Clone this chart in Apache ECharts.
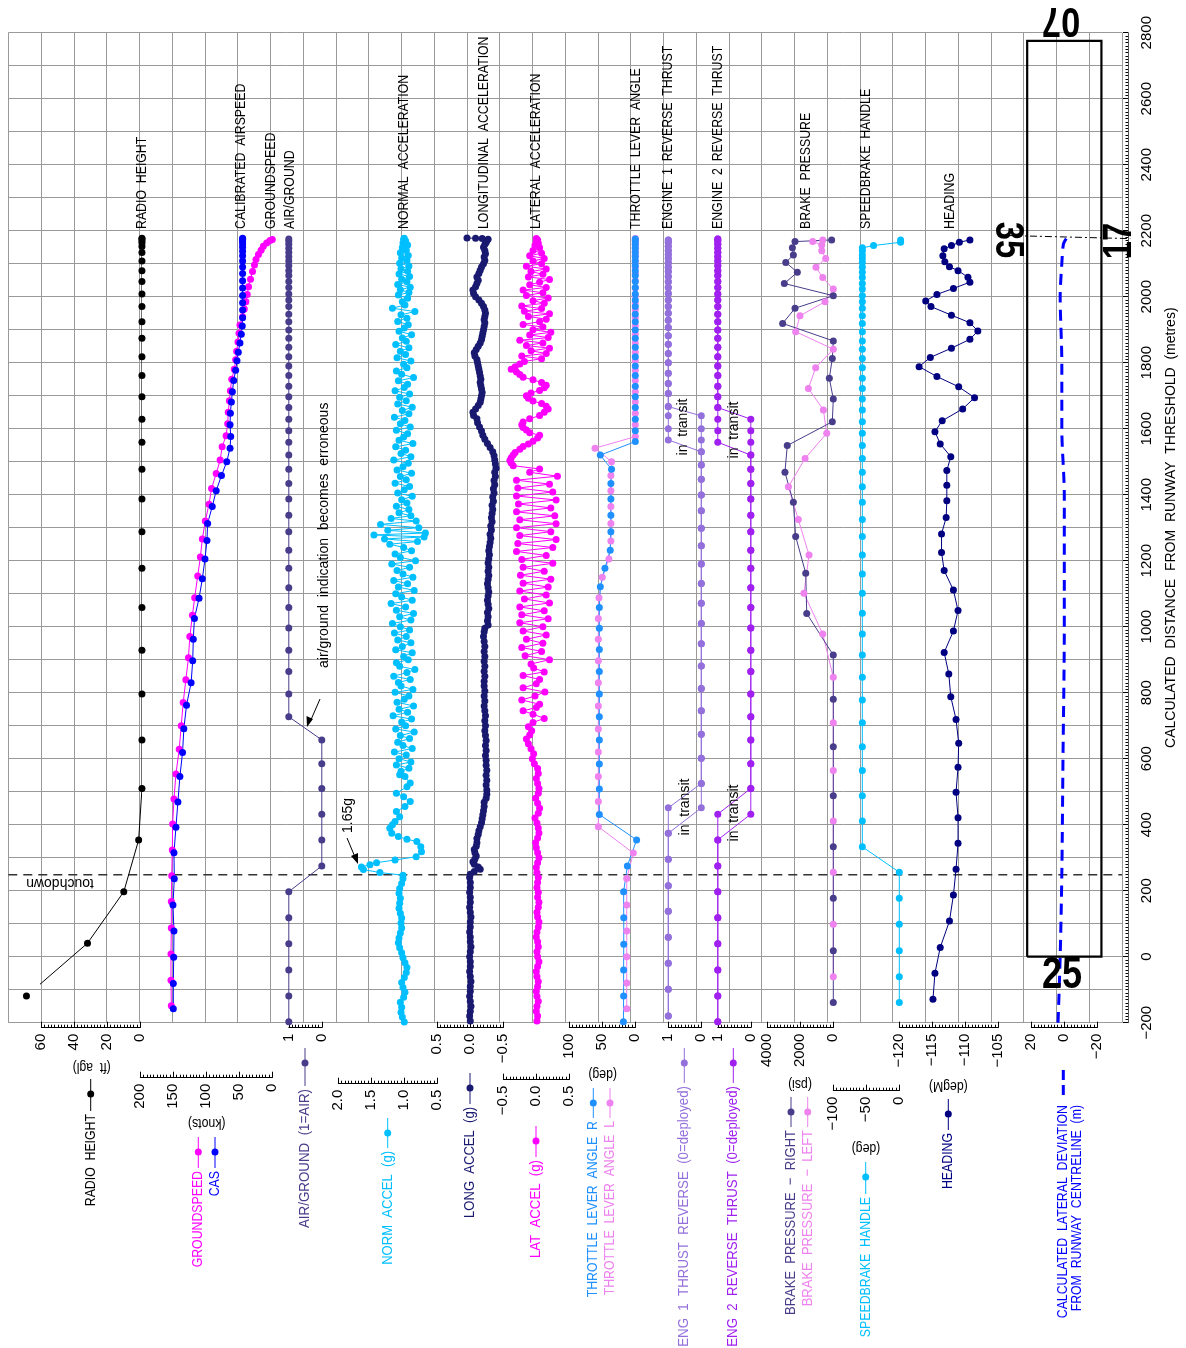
<!DOCTYPE html>
<html><head><meta charset="utf-8">
<script src="https://cdn.jsdelivr.net/npm/echarts@6/dist/echarts.min.js"></script>
<style>html,body{margin:0;padding:0;background:#fff}#c{width:1186px;height:1348px}</style>
</head><body><div id="c"></div>
<script>
// ---------------- DATA (distance m, value) ----------------
const DIST_TICKS = [-200, 0, 200, 400, 600, 800, 1000, 1200, 1400, 1600, 1800, 2000, 2200, 2400, 2600, 2800];
const TOUCHDOWN_D = [248];

const RADIO = [[-119,69],[41,32],[197,10],[354,1],[510,-1],[657,-1],[796,-1],[929,-1],[1058,-1],[1177,-1],[1288,-1],[1387,-1],[1477,-1],[1559,-1],[1629,-1],[1697,-1],[1761,-1],[1818,-1],[1874,-1],[1924,-1],[1970,-1],[2008,-1],[2046,-1],[2079,-1],[2108,-1],[2134,-1],[2152,-1],[2163,-1],[2169,-1],[2175,-1],[2177,-1]];

const GROUNDSPEED = [[-149,153],[-71,153.5],[8,153.5],[87,153],[167,153],[245,152.4],[323,151.5],[402,151],[478,149],[554,146],[629,141],[700,138],[770,135],[839,131],[906,127],[970,125],[1035,121],[1088,117.6],[1154,113],[1211,109],[1266,106],[1320,101.5],[1371,96],[1419,92],[1464,85],[1505,79],[1545,76],[1579,70],[1615,67.6],[1650,66.7],[1685,65],[1715,63.6],[1750,61.5],[1780,57.6],[1809,55.5],[1835,54],[1863,52],[1889,50.5],[1914,49],[1939,45],[1963,42.4],[1985,40],[2007,38],[2030,36],[2053,33],[2076,30],[2096,27],[2113,24.7],[2128,21],[2141,17],[2153,13.6],[2163,8.5],[2170,3.5],[2173,0]];

const CAS = [[-158,150],[-81,150],[-2,149.4],[78,149],[157,150.5],[236,148.5],[315,149],[392,146],[469,143],[546,140],[619,136],[691,134],[762,130],[830,123],[897,120.6],[962,119.7],[1025,118],[1086,111],[1145,106],[1205,102],[1261,99],[1313,98],[1364,91],[1412,85],[1458,77],[1500,69],[1541,64],[1576,63],[1612,64],[1647,63.5],[1681,62],[1712,60.5],[1746,58.5],[1777,55.5],[1806,53.5],[1832,51.5],[1860,49],[1886,47],[1911,45.5],[1936,45],[1960,45],[1982,45],[2004,45],[2026,45],[2048,45],[2070,45],[2090,45],[2108,45],[2124,45],[2138,45],[2150,45],[2160,45],[2167,45],[2172,45],[2175,45],[2177,45]];

const D1HZ_A = [-197,-119,-40,39,118,197,275,354,432,510,585,657,727,796,864,929,996,1058,1118,1177,1232,1288,1338,1387,1434,1477,1520,1559,1594,1629,1664,1697,1729,1761,1790,1818,1847,1874,1899,1924,1947,1970,1990,2008,2028,2046,2064,2079,2094,2108,2121,2134,2147,2159,2169,2175];
const AIR_GROUND = [1,1,1,1,1,1,0,0,0,0,0,0,1,1,1,1,1,1,1,1,1,1,1,1,1,1,1,1,1,1,1,1,1,1,1,1,1,1,1,1,1,1,1,1,1,1,1,1,1,1,1,1,1,1,1,1];

const NORM_ACCEL = [[-198,1.00],[-183,1.03],[-168,1.05],[-153,1.04],[-138,1.06],[-123,1.01],[-108,0.99],[-93,1.02],[-78,1.04],[-63,1.00],[-48,0.97],[-33,0.96],[-18,0.99],[-3,1.02],[12,1.04],[27,1.07],[42,1.09],[57,1.08],[72,1.06],[87,1.04],[102,1.05],[117,1.04],[132,1.06],[147,1.08],[162,1.07],[177,1.06],[192,1.08],[207,1.07],[222,1.04],[237,1.02],[247,1.02],
[255,1.37],[264,1.62],[272,1.65],[279,1.52],[285,1.42],[293,1.14],[303,0.82],[318,0.74],[333,0.75],[349,0.81],[356,0.96],[364,1.09],[374,1.19],[389,1.22],[400,1.18],[410,1.14],[424,1.07],[440,1.12],[455,0.99],[470,0.91],[485,1.01],[495,1.12],[515,0.96],[526,0.91],[546,0.99],[551,1.07],
[562,1.05],[571,0.93],[581,1.12],[590,0.90],[600,1.08],[611,0.97],[620,1.15],[631,0.88],[640,1.02],[650,1.10],[661,0.92],[670,1.06],[681,0.85],[690,1.13],[700,0.98],[711,1.04],[720,0.89],[730,1.17],[741,0.95],[750,1.08],[760,0.86],[771,1.11],[780,1.00],[790,0.93],[801,1.14],[810,0.87],[820,1.05],[831,1.09],[840,0.91],[850,1.16],[861,0.96],[870,0.84],[880,1.07],[891,1.12],[900,0.94],[910,1.01],[921,0.88],[930,1.13],[940,1.03],[951,0.90],[960,1.10],[970,0.97],[981,1.15],[990,0.92],[1000,1.06],
[1010,1.18],[1020,0.90],[1030,1.07],[1040,0.86],[1050,1.12],[1060,0.98],[1070,1.20],[1080,0.88],[1090,1.04],[1100,1.13],[1110,0.85],[1120,1.09],[1130,0.95],[1140,1.16],[1150,0.87],[1160,1.02],[1170,1.11],[1180,0.92],[1190,1.19],[1200,0.83],[1210,1.06],[1220,1.14],[1230,0.89],[1240,1.01],[1250,1.22],[1258,0.80],
[1266,1.30],[1272,0.70],[1278,1.46],[1284,0.68],[1292,1.25],[1300,0.78],[1310,1.36],[1320,0.82],[1328,1.20],[1336,0.90],
[1345,1.08],[1355,0.93],[1365,1.12],[1375,0.96],[1385,1.04],[1395,0.88],[1405,1.10],[1415,1.00],[1425,0.92],[1435,1.14],[1445,0.97],[1455,1.06],[1465,0.89],[1475,1.11],[1485,1.02],[1495,0.94],[1505,1.16],[1515,0.90],[1525,1.05],[1535,0.98],[1545,1.13],[1555,0.87],[1565,1.08],[1575,1.01],[1585,0.95],[1595,1.12],[1605,0.91],[1615,1.06],[1625,0.99],[1635,1.15],[1645,0.93],[1655,1.03],[1665,0.88],[1675,1.10],[1685,0.97],[1695,1.07],[1705,0.92],[1715,1.14],[1725,1.00],[1735,0.95],[1745,1.09],[1755,0.86],[1765,1.04],[1775,1.12],[1785,0.96],[1795,1.01],[1805,0.90],[1815,1.11],[1825,0.98],[1835,1.06],[1845,0.93],[1855,1.13],[1865,0.97],[1875,1.03],[1885,0.89],[1895,1.08],[1905,1.00],[1915,0.94],[1925,1.10],[1935,0.96],[1945,1.05],[1955,0.84],[1965,1.18],[1975,0.99],[1985,1.03],[1995,0.95],[2005,1.09],[2013,0.93],[2021,1.06],[2029,0.91],[2037,1.10],[2045,0.96],[2053,1.04],[2061,0.92],[2069,1.08],[2077,0.95],[2085,1.05],[2093,0.93],[2101,1.07],[2109,0.96],[2117,1.04],[2125,0.94],[2133,1.06],[2141,0.97],[2149,1.03],[2157,0.95],[2163,1.02],[2169,0.98],[2174,1.01],[2177,1.00]];

const LONG_ACCEL = [[-195,0.0],[-180,0.01],[-165,0.0],[-150,-0.01],[-135,0.0],[-120,0.01],[-105,0.0],[-90,0.0],[-75,-0.01],[-60,0.0],[-45,0.01],[-30,0.0],[-15,0.0],[0,0.01],[15,0.0],[30,-0.01],[45,0.0],[60,0.0],[75,0.01],[90,0.0],[105,0.0],[120,-0.01],[135,0.0],[150,0.01],[165,0.0],[180,0.0],[195,0.01],[210,0.0],[225,0.0],[240,0.01],[250,0.0],
[258,-0.06],[265,-0.15],[272,-0.12],[280,-0.06],[288,-0.04],[296,-0.07],[305,-0.09],[315,-0.07],[325,-0.06],[335,-0.09],[345,-0.1],[358,-0.1],[370,-0.12],[382,-0.13],[394,-0.15],[406,-0.17],[418,-0.18],[430,-0.19],[442,-0.2],[455,-0.21],[468,-0.21],[480,-0.24],[492,-0.25],[505,-0.25],[520,-0.24],[535,-0.25],[550,-0.24],[565,-0.25],[580,-0.24],[595,-0.24],[610,-0.23],[625,-0.24],[640,-0.23],[655,-0.24],[670,-0.23],[685,-0.22],[700,-0.23],[715,-0.22],[730,-0.23],[745,-0.22],[760,-0.21],[775,-0.22],[790,-0.21],[805,-0.22],[820,-0.21],[835,-0.21],[850,-0.22],[865,-0.21],[880,-0.22],[895,-0.21],[910,-0.22],[925,-0.21],[940,-0.22],[955,-0.21],[970,-0.2],[985,-0.21],[995,-0.22],
[1005,-0.27],[1018,-0.26],[1030,-0.27],[1043,-0.26],[1055,-0.28],[1068,-0.27],[1080,-0.26],[1093,-0.27],[1105,-0.28],[1118,-0.27],[1130,-0.26],[1143,-0.27],[1155,-0.28],[1168,-0.27],[1180,-0.28],[1193,-0.27],[1205,-0.28],[1218,-0.29],[1230,-0.28],[1243,-0.29],[1255,-0.3],[1268,-0.31],[1280,-0.3],[1293,-0.32],[1305,-0.31],[1318,-0.33],[1330,-0.32],[1343,-0.33],[1355,-0.34],[1368,-0.33],[1380,-0.35],[1393,-0.34],[1405,-0.36],[1418,-0.35],[1430,-0.37],[1443,-0.36],[1455,-0.38],[1468,-0.37],[1480,-0.39],[1493,-0.38],[1505,-0.37],[1518,-0.36],[1530,-0.34],[1543,-0.3],[1555,-0.26],[1568,-0.22],[1580,-0.19],[1593,-0.17],[1605,-0.14],[1618,-0.11],[1630,-0.1],[1640,-0.05],[1650,-0.04],[1660,-0.08],[1670,-0.12],[1680,-0.15],[1690,-0.16],[1700,-0.17],[1710,-0.18],[1720,-0.17],[1730,-0.16],[1740,-0.15],[1750,-0.16],[1760,-0.15],[1770,-0.14],[1780,-0.13],[1790,-0.12],[1800,-0.11],[1810,-0.1],[1820,-0.07],[1830,-0.06],[1840,-0.09],[1850,-0.12],[1860,-0.15],[1870,-0.17],[1880,-0.18],[1890,-0.19],[1900,-0.2],[1910,-0.21],[1920,-0.22],[1930,-0.21],[1940,-0.22],[1950,-0.23],[1960,-0.22],[1970,-0.2],[1980,-0.17],[1990,-0.13],[2000,-0.08],[2010,-0.05],[2020,-0.04],[2030,-0.08],[2040,-0.1],[2050,-0.12],[2060,-0.1],[2070,-0.13],[2080,-0.15],[2090,-0.17],[2100,-0.2],[2110,-0.22],[2120,-0.21],[2130,-0.23],[2140,-0.22],[2150,-0.2],[2158,-0.22],[2164,-0.24],[2170,-0.25],[2174,-0.27],[2176,-0.18],[2177,-0.08],[2178,0.05]];

const LAT_ACCEL = [[-195,0.01],[-180,0.02],[-165,0.0],[-150,0.01],[-135,0.03],[-120,0.01],[-105,0.0],[-90,0.02],[-75,0.03],[-60,0.01],[-45,0.0],[-30,0.02],[-15,0.04],[0,0.02],[15,0.01],[30,0.03],[45,0.02],[60,0.0],[75,0.01],[90,0.03],[105,0.04],[120,0.02],[135,0.01],[150,0.03],[165,0.04],[180,0.02],[195,0.03],[210,0.01],[225,0.02],[240,0.03],[255,0.01],[270,0.0],[285,0.02],[300,0.04],[315,0.02],[330,0.0],[345,-0.01],[360,0.02],[375,0.04],[390,0.03],[405,0.01],[420,-0.02],[435,0.03],[450,0.05],[465,0.02],[480,-0.01],[495,0.03],[510,0.04],[525,0.02],[540,0.0],[555,0.03],[570,0.02],[585,-0.03],[600,-0.06],[615,-0.04],[630,-0.08],[645,-0.12],[660,-0.15],[672,-0.1],[685,-0.07],[697,-0.12],
[710,-0.05],[722,0.12],[735,-0.05],[745,-0.2],[755,0.0],[765,0.05],[778,-0.22],[790,-0.02],[802,0.13],[815,-0.2],[827,0.0],[840,0.05],[852,-0.2],[863,0.12],[875,-0.04],[887,-0.08],[900,0.2],[912,-0.17],[925,0.08],[937,-0.22],[950,0.1],[962,-0.15],[975,0.15],[987,-0.2],[1000,0.1],[1012,-0.25],[1024,0.18],[1036,-0.22],[1048,0.12],[1060,-0.25],[1072,0.2],[1084,-0.18],[1096,0.15],[1108,-0.25],[1120,0.18],[1132,-0.2],[1144,0.22],[1156,-0.24],[1168,0.12],[1180,-0.2],[1192,0.25],[1204,-0.22],[1216,0.15],[1228,-0.3],[1240,0.25],[1252,-0.28],[1264,0.3],[1276,-0.25],[1288,0.22],[1300,-0.3],[1312,0.3],[1324,-0.25],[1336,0.28],[1348,-0.3],[1360,0.22],[1372,-0.27],[1384,0.3],[1396,-0.3],[1408,0.25],[1420,-0.28],[1432,0.2],[1444,-0.3],[1456,0.32],[1468,-0.1],[1478,0.05],[1488,-0.35],[1496,-0.38],[1504,-0.4],[1512,-0.38],[1520,-0.35],[1528,-0.32],[1538,-0.25],[1546,-0.2],[1554,-0.12],[1562,-0.05],[1572,0.02],[1580,0.05],[1588,-0.1],[1596,-0.15],[1604,-0.2],[1612,-0.22],[1620,-0.2],[1630,-0.1],[1640,0.05],[1650,0.12],[1660,0.18],[1668,0.15],[1676,0.08],[1684,-0.05],[1692,-0.12],[1700,-0.15],[1708,-0.08],[1716,0.05],[1724,0.12],[1732,0.15],[1740,0.08],[1748,-0.05],[1756,-0.2],[1764,-0.25],[1772,-0.3],[1780,-0.38],[1788,-0.32],[1796,-0.25],[1804,-0.18],[1812,0.08],[1820,-0.22],[1828,0.15],[1836,-0.08],[1844,0.2],[1852,-0.15],[1860,0.1],[1868,-0.25],[1876,0.18],[1884,-0.1],[1892,0.22],[1900,-0.05],[1908,0.1],[1916,-0.2],[1924,0.05],[1932,0.15],[1940,-0.12],[1948,0.2],[1956,-0.18],[1964,0.08],[1972,-0.22],[1980,0.12],[1988,-0.05],[1996,0.18],[2004,-0.15],[2012,0.1],[2020,-0.2],[2028,0.15],[2036,-0.1],[2044,0.05],[2052,0.2],[2060,-0.12],[2068,0.1],[2076,-0.08],[2084,0.15],[2092,-0.15],[2100,0.08],[2108,-0.05],[2116,0.12],[2124,-0.1],[2132,0.08],[2140,-0.05],[2148,0.05],[2156,-0.02],[2162,0.03],[2168,0.0],[2172,0.02],[2176,0.0]];

const THROTTLE_R = [[-197,18],[-119,17.7],[-40,17.7],[38,17.5],[118,17.5],[197,17.7],[275,12],[354,-2],[431,54.5],[508,54.5],[584,54.5],[657,54.5],[727,54.5],[796,54.5],[864,54.5],[931,54.5],[995,54.5],[1058,54.5],[1121,53],[1177,46],[1232,38],[1288,37],[1338,37],[1387,37],[1434,37],[1477,36],[1520,53],[1561,0],[1594,0],[1629,0],[1664,0],[1697,0],[1729,0],[1761,0],[1790,0],[1818,0],[1847,0],[1874,0],[1899,0],[1924,0],[1947,0],[1970,0],[1990,0],[2008,0],[2028,0],[2046,0],[2064,0],[2079,0],[2094,0],[2108,0],[2121,0],[2134,0],[2147,0],[2159,0],[2169,0],[2175,0]];
const THROTTLE_L = [[-158,13],[-80,13],[0,13],[78,13],[157,13],[237,13],[314,3],[394,56],[470,56],[546,56],[620,56],[690,56],[760,56],[830,56],[897,56],[962,56],[1025,56],[1088,55],[1150,50],[1205,40],[1260,37],[1313,37],[1364,37],[1412,37],[1458,37],[1500,36],[1541,61],[1576,0],[1612,0],[1647,0],[1681,0],[1712,0],[1746,0],[1777,0],[1806,0],[1832,0],[1860,0],[1886,0],[1911,0],[1936,0],[1960,0],[1982,0],[2004,0],[2026,0],[2048,0],[2070,0],[2090,0],[2108,0],[2124,0],[2138,0],[2150,0],[2160,0],[2167,0],[2172,0],[2176,0]];

const D1HZ_B = [-180,-99,-20,59,138,215,295,374,451,525,601,674,745,813,881,948,1010,1071,1131,1190,1245,1298,1351,1399,1447,1490,1530,1566,1600,1639,1667,1707,1737,1768,1800,1828,1856,1882,1907,1929,1950,1970,1990,2010,2028,2045,2061,2076,2089,2103,2116,2128,2140,2153,2165,2172];
const ENG1_REV_A = [1,1,1,1,1,1,1,1,0,0,0,0,0,0,0,0,0,0,0,0,0,0,0,0,0,0,0,1,1,1,1,1,1,1,1,1,1,1,1,1,1,1,1,1,1,1,1,1,1,1,1,1,1,1,1,1];
const ENG1_REV_B = [1,1,1,1,1,1,1,1,1,0,0,0,0,0,0,0,0,0,0,0,0,0,0,0,0,0,0,0,0,0,1,1,1,1,1,1,1,1,1,1,1,1,1,1,1,1,1,1,1,1,1,1,1,1,1,1];
const ENG2_REV_A = [1,1,1,1,1,1,1,1,0,0,0,0,0,0,0,0,0,0,0,0,0,0,0,0,0,0,0,1,1,1,1,1,1,1,1,1,1,1,1,1,1,1,1,1,1,1,1,1,1,1,1,1,1,1,1,1];
const ENG2_REV_B = [1,1,1,1,1,1,1,1,1,0,0,0,0,0,0,0,0,0,0,0,0,0,0,0,0,0,0,0,0,0,1,1,1,1,1,1,1,1,1,1,1,1,1,1,1,1,1,1,1,1,1,1,1,1,1,1];

const BRAKE_R = [[-139,0],[18,0],[177,0],[333,0],[488,0],[636,0],[780,0],[914,0],[1040,1610],[1162,1670],[1273,2280],[1377,2420],[1468,2930],[1549,2790],[1621,60],[1690,0],[1753,240],[1813,60],[1866,0],[1919,3070],[1965,2320],[2003,0],[2040,2970],[2074,2180],[2104,2880],[2126,2420],[2148,2480],[2167,2320],[2172,100]];
const BRAKE_L = [[-61,0],[98,0],[256,0],[411,0],[564,0],[709,0],[847,0],[978,640],[1101,1780],[1217,1470],[1325,2120],[1424,2720],[1510,1710],[1586,400],[1657,600],[1722,1510],[1785,1070],[1841,0],[1894,2280],[1942,2020],[1985,500],[2023,0],[2058,640],[2089,1050],[2116,460],[2139,700],[2157,700],[2167,1250],[2172,640]];

const SPEEDBRAKE = [[-139,0],[-61,0],[18,0],[98,0],[177,0],[256,0],[333,-56],[411,-56],[488,-56],[564,-56],[636,-56],[709,-56],[778,-56],[847,-56],[914,-56],[978,-56],[1041,-56],[1101,-56],[1160,-56],[1217,-56],[1273,-56],[1325,-56],[1377,-56],[1424,-56],[1468,-56],[1510,-56],[1549,-56],[1586,-56],[1621,-56],[1657,-56],[1690,-56],[1722,-56],[1753,-56],[1785,-56],[1813,-56],[1841,-56],[1866,-56],[1894,-56],[1919,-56],[1942,-56],[1965,-56],[1985,-56],[2003,-56],[2023,-56],[2040,-56],[2058,-56],[2074,-56],[2089,-56],[2104,-56],[2116,-56],[2126,-56],[2139,-56],[2148,-56],[2155,-39],[2165,2],[2172,2]];

const HEADING = [[-129,-114.9],[-50,-114.6],[28,-113.8],[108,-112.4],[187,-111.8],[265,-111.4],[344,-111.1],[421,-111.1],[498,-111.4],[574,-111.1],[647,-111.0],[719,-111.4],[788,-112.2],[857,-112.5],[922,-113.2],[987,-111.8],[1049,-111.1],[1111,-111.8],[1170,-113.2],[1225,-113.6],[1281,-113.6],[1331,-112.9],[1382,-112.8],[1429,-112.8],[1473,-112.8],[1515,-112.2],[1554,-113.8],[1591,-114.6],[1624,-113.5],[1660,-110.4],[1694,-108.6],[1727,-111.0],[1758,-114.3],[1788,-117.0],[1816,-115.3],[1844,-112.1],[1871,-109.3],[1896,-108.1],[1921,-109.3],[1944,-112.1],[1970,-115.2],[1987,-116.0],[2007,-114.3],[2025,-111.8],[2044,-109.3],[2059,-109.6],[2079,-111.1],[2091,-112.4],[2106,-113.1],[2124,-113.4],[2145,-113.2],[2155,-112.1],[2165,-110.9],[2172,-109.3]];

const LATERAL_DEV = [[-200,3.8],[0,2.5],[250,1.5],[600,0.8],[1000,0],[1400,0],[1600,1.5],[1800,1.5],[2000,2.5],[2100,1.5],[2160,0.5],[2178,-1.5]];
const RUNWAY_EDGES = [[0,22.5],[2775,22.5],[2775,-22.5],[0,-22.5],[0,22.5]];
const CROSS_RUNWAY = [[2186,39],[2176,-40]];

// ---------------- LAYOUT ----------------
const F = "'Liberation Sans',Arial,sans-serif";
const NARROW = 0.82;
const L0 = 8.3, T0 = 32.7, CW = 33, PH = 990, DMIN = -200, DMAX = 2800;
const colX = k => L0 + CW * k;

const strips = [
  {c0:1,   w:3, min:0,    max:60,   iv:20,   inv:true,  off:5,  dec:0},
  {c0:4,   w:4, min:0,    max:200,  iv:50,   inv:true,  off:55, dec:0},
  {c0:8.5, w:1, min:0,    max:1,    iv:1,    inv:true,  off:5,  dec:0},
  {c0:10,  w:3, min:0.5,  max:2.0,  iv:0.5,  inv:true,  off:61, dec:1},
  {c0:13,  w:2, min:-0.5, max:0.5,  iv:0.5,  inv:true,  off:5,  dec:1},
  {c0:15,  w:2, min:-0.5, max:0.5,  iv:0.5,  inv:false, off:57, dec:1},
  {c0:17,  w:2, min:0,    max:100,  iv:50,   inv:true,  off:5,  dec:0},
  {c0:20,  w:1, min:0,    max:1,    iv:1,    inv:true,  off:5,  dec:0},
  {c0:21.5,w:1, min:0,    max:1,    iv:1,    inv:true,  off:5,  dec:0},
  {c0:23,  w:2, min:0,    max:4000, iv:2000, inv:true,  off:5,  dec:0},
  {c0:25,  w:2, min:-100, max:0,    iv:50,   inv:false, off:68, dec:0},
  {c0:27,  w:3, min:-120, max:-105, iv:5,    inv:false, off:5,  dec:0},
  {c0:31,  w:2, min:-20,  max:20,   iv:20,   inv:true,  off:5,  dec:0}
];
const fmtNum = (v, dec) => { let s = Number(v).toFixed(dec); if (Number(s) === 0) s = (0).toFixed(dec); return s.replace('-', '\u2212'); };

const grids = [{left:L0, top:T0, width:CW*34, height:PH}];
const xAxes = [{gridIndex:0, type:'value', min:0, max:34, interval:1, axisLine:{show:false}, axisTick:{show:false}, axisLabel:{show:false},
  splitLine:{show:true, lineStyle:{color:'#9a9a9a', width:1}}}];
const yAxes = [
  {gridIndex:0, type:'value', min:DMIN, max:DMAX, interval:100, position:'left', axisLine:{show:false}, axisTick:{show:false}, axisLabel:{show:false},
   splitLine:{show:true, lineStyle:{color:'#9a9a9a', width:1}}},
  {gridIndex:0, type:'value', min:DMIN, max:DMAX, interval:200, position:'right', offset:6,
   axisLine:{show:true, lineStyle:{color:'#555', width:1}}, axisTick:{show:true, inside:true, length:5, lineStyle:{color:'#000'}},
   minorTick:{show:true, splitNumber:20, length:2.5, lineStyle:{color:'#000'}}, splitLine:{show:false},
   axisLabel:{rotate:90, fontSize:15, fontFamily:F, color:'#000', margin:11, formatter:v => DIST_TICKS.indexOf(v) >= 0 ? fmtNum(v,0) : ''},
   name:'CALCULATED  DISTANCE  FROM  RUNWAY  THRESHOLD  (metres)', nameLocation:'middle', nameRotate:90, nameGap:36,
   nameTextStyle:{fontSize:14, fontFamily:F, color:'#000'}}
];
strips.forEach((s, i) => {
  const gi = i + 1;
  grids.push({left:colX(s.c0), top:T0, width:CW*s.w, height:PH});
  xAxes.push({gridIndex:gi, type:'value', min:s.min, max:s.max, interval:s.iv, inverse:s.inv, position:'bottom', offset:s.off,
    axisLine:{show:true, onZero:false, lineStyle:{color:'#000', width:1}},
    axisTick:{show:true, inside:true, length:6, lineStyle:{color:'#000'}},
    minorTick:{show:true, splitNumber:10, length:3, lineStyle:{color:'#000'}},
    splitLine:{show:false},
    axisLabel:{rotate:90, fontSize:15, fontFamily:F, color:'#000', margin:6, formatter:v => fmtNum(v, s.dec)}});
  yAxes.push({gridIndex:gi, type:'value', min:DMIN, max:DMAX, show:false});
});

const series = [];
const ln = (gi, data, color, extra) => series.push(Object.assign({
  type:'line', xAxisIndex:gi, yAxisIndex:gi + 1, data:data, symbol:'circle', symbolSize:7,
  lineStyle:{color:color, width:1}, itemStyle:{color:color}, clip:false, animation:false, z:3
}, extra || {}));
const flip = arr => arr.map(p => [p[1], p[0]]);
const zipD = (D, V) => D.map((d, i) => [V[i], d]);

ln(1, flip(RADIO), '#000000');
ln(2, flip(GROUNDSPEED), '#ff00ff');
ln(2, flip(CAS), '#0000ff');
ln(3, zipD(D1HZ_A, AIR_GROUND), '#483d8b');
ln(4, flip(NORM_ACCEL), '#00bfff');
ln(5, flip(LONG_ACCEL), '#191970');
ln(6, flip(LAT_ACCEL), '#ff00ff');
ln(7, flip(THROTTLE_L), '#ee82ee');
ln(7, flip(THROTTLE_R), '#1e90ff');
ln(8, zipD(D1HZ_B, ENG1_REV_A), '#9370db');
ln(8, zipD(D1HZ_B, ENG1_REV_B), '#9370db');
ln(9, zipD(D1HZ_A, ENG2_REV_A), '#a020f0');
ln(9, zipD(D1HZ_A, ENG2_REV_B), '#a020f0');
ln(10, flip(BRAKE_L), '#ee82ee');
ln(10, flip(BRAKE_R), '#483d8b');
ln(11, flip(SPEEDBRAKE), '#00bfff');
ln(12, flip(HEADING), '#000080');
ln(13, flip(LATERAL_DEV), '#0000ff', {symbol:'none', lineStyle:{color:'#0000ff', width:3, type:[11,7]}, smooth:0.3});
series.push({type:'line', xAxisIndex:0, yAxisIndex:0, data:[[0, TOUCHDOWN_D[0]], [34, TOUCHDOWN_D[0]]], symbol:'none',
  lineStyle:{color:'#333', width:1.5, type:[9,6]}, animation:false, z:1});

const chart = echarts.init(document.getElementById('c'), null, {renderer:'canvas'});
chart.setOption({animation:false, backgroundColor:'#fff', grid:grids, xAxis:xAxes, yAxis:yAxes, series:series});

// ---------------- TEXT / LEGEND / RUNWAY GRAPHICS ----------------
const G = [];
const txt = (x, y, text, color, align, size, rot, weight, sx) => G.push({type:'text', x:x, y:y, rotation:rot, scaleX:(sx == null ? NARROW : sx), z:100, silent:true,
  style:{text:text, fill:color, font:(weight||'normal') + ' ' + size + 'px ' + F, textAlign:align, textVerticalAlign:'middle', align:align, verticalAlign:'middle'}});
const UP = Math.PI / 2, DOWN = -Math.PI / 2, FLIP = Math.PI;

// runway outline and crossing runway, positioned through the lateral-deviation axes
const toPx = p => chart.convertToPixel({gridIndex:13}, [p[1], p[0]]);
G.push({type:'polyline', z:50, silent:true, shape:{points:RUNWAY_EDGES.map(toPx)}, style:{stroke:'#000', lineWidth:2.2, fill:null}});
G.push({type:'polyline', z:50, silent:true, shape:{points:CROSS_RUNWAY.map(toPx)}, style:{stroke:'#000', lineWidth:1, fill:null, lineDash:[7,3,2,3]}});

// titles above the traces
[[142,'RADIO  HEIGHT'],[241,'CALIBRATED  AIRSPEED'],[270.5,'GROUNDSPEED'],[290,'AIR/GROUND'],
 [404,'NORMAL  ACCELERATION'],[484,'LONGITUDINAL  ACCELERATION'],[536,'LATERAL  ACCELERATION'],
 [636,'THROTTLE  LEVER  ANGLE'],[668,'ENGINE  1  REVERSE  THRUST'],[718,'ENGINE  2  REVERSE  THRUST'],
 [806,'BRAKE  PRESSURE'],[866,'SPEEDBRAKE  HANDLE'],[950,'HEADING']
].forEach(t => txt(t[0], 229, t[1], '#000', 'left', 15, UP));

// legend entries: x, dot y, text end y, label, colour, horizontal squeeze
[[90.7,1094,1114,'RADIO  HEIGHT','#000000',0.82],
 [198.3,1152,1171,'GROUNDSPEED','#ff00ff',0.82],
 [215,1152,1171,'CAS','#0000ff',0.82],
 [305,1063,1089,'AIR/GROUND  (1=AIR)','#483d8b',0.89],
 [387.7,1133,1151,'NORM  ACCEL  (g)','#00bfff',0.87],
 [470,1088,1107,'LONG  ACCEL  (g)','#191970',0.87],
 [536,1141,1160,'LAT  ACCEL  (g)','#ff00ff',0.88],
 [593.3,1103,1121,'THROTTLE  LEVER  ANGLE  R','#1e90ff',0.82],
 [610,1103,1121,'THROTTLE  LEVER  ANGLE  L','#ee82ee',0.82],
 [684.3,1063,1086,'ENG  1  THRUST  REVERSE  (0=deployed)','#9370db',0.885],
 [733.3,1063,1086,'ENG  2  REVERSE  THRUST  (0=deployed)','#a020f0',0.885],
 [791,1112,1130,'BRAKE  PRESSURE  \u2212  RIGHT','#483d8b',0.865],
 [807.7,1112,1130,'BRAKE  PRESSURE  \u2212  LEFT','#ee82ee',0.865],
 [865.7,1177,1197,'SPEEDBRAKE  HANDLE','#00bfff',0.82],
 [948.3,1114,1133,'HEADING','#000080',0.82]
].forEach(e => {
  G.push({type:'line', z:100, silent:true, shape:{x1:e[0], y1:e[1]-15, x2:e[0], y2:e[2]-3}, style:{stroke:e[4], lineWidth:1}});
  G.push({type:'circle', z:100, silent:true, shape:{cx:e[0], cy:e[1], r:3.5}, style:{fill:e[4]}});
  txt(e[0], e[2], e[3], e[4], 'right', 15, UP, null, e[5]);
});
G.push({type:'line', z:100, silent:true, shape:{x1:1063.3, y1:1070, x2:1063.3, y2:1099}, style:{stroke:'#0000ff', lineWidth:3, lineDash:[10,5]}});
txt(1063.3, 1105, 'CALCULATED  LATERAL  DEVIATION', '#0000ff', 'right', 15, UP);
txt(1077, 1105, 'FROM  RUNWAY  CENTRELINE  (m)', '#0000ff', 'right', 15, UP);

// units (upside down)
[[91.7,1067,'(ft  agl)'],[206.7,1123,'(knots)'],[602.7,1074,'(deg)'],[800,1084,'(psi)'],[866,1148,'(deg)'],[948.3,1086,'(degM)']]
  .forEach(u => txt(u[0], u[1], u[2], '#000', 'center', 15, FLIP));

// annotations
txt(60, 883, 'touchdown', '#000', 'center', 14, FLIP, null, 1);
txt(324, 668, 'air/ground  indication  becomes  erroneous', '#000', 'left', 14, UP, null, 1);
G.push({type:'line', z:100, silent:true, shape:{x1:320, y1:699, x2:310, y2:722}, style:{stroke:'#000', lineWidth:1}});
G.push({type:'polygon', z:100, silent:true, shape:{points:[[307,727],[306.5,716],[313,719]]}, style:{fill:'#000'}});
txt(348, 833, '1.65g', '#000', 'left', 14, UP, null, 1);
G.push({type:'line', z:100, silent:true, shape:{x1:347, y1:838, x2:355, y2:857}, style:{stroke:'#000', lineWidth:1}});
G.push({type:'polygon', z:100, silent:true, shape:{points:[[358,864],[351,856],[358,853]]}, style:{fill:'#000'}});
txt(685, 807, 'in  transit', '#000', 'center', 14, UP, null, 1);
txt(683, 427, 'in  transit', '#000', 'center', 14, UP, null, 1);
txt(734, 813, 'in  transit', '#000', 'center', 14, UP, null, 1);
txt(734, 430, 'in  transit', '#000', 'center', 14, UP, null, 1);

// runway designators
txt(1062, 976, '25', '#000', 'center', 44, 0, 'bold');
txt(1061, 20, '07', '#000', 'center', 42, FLIP, 'bold');
txt(1007, 240, '35', '#000', 'center', 40, DOWN, 'bold');
txt(1120, 241, '17', '#000', 'center', 40, UP, 'bold');

chart.setOption({graphic:{elements:G}});
</script></body></html>
